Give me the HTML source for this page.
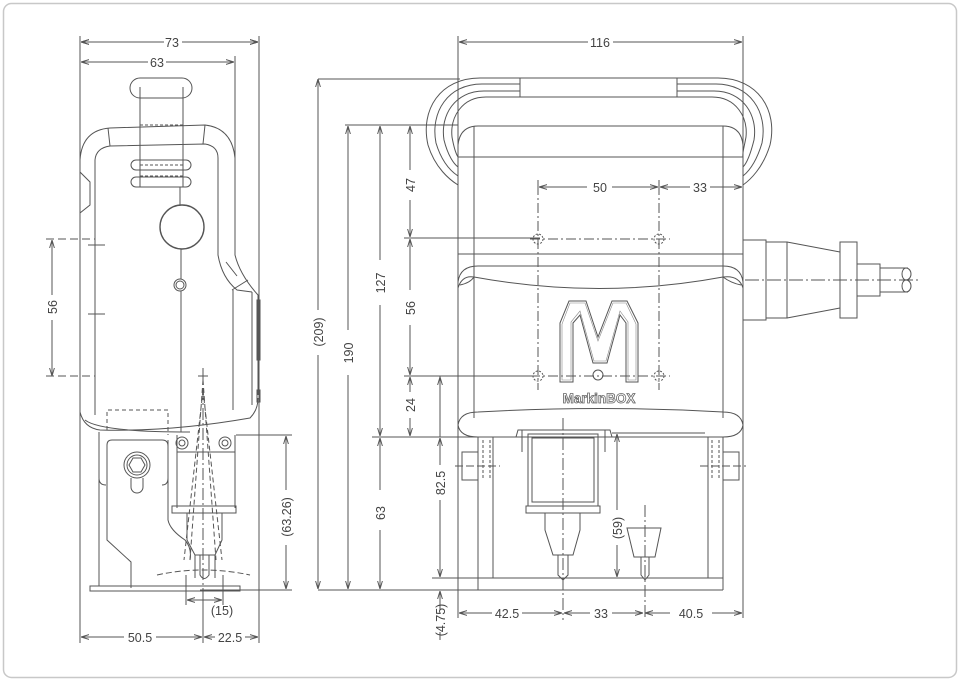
<!DOCTYPE html>
<html><head><meta charset="utf-8"><style>
html,body{margin:0;padding:0;background:#fff;}
svg{display:block;}
text{font-family:"Liberation Sans",sans-serif;font-size:12.5px;fill:#444;}
</style></head><body>
<svg width="960" height="681" viewBox="0 0 960 681" xmlns="http://www.w3.org/2000/svg">
<defs>
<marker id="a" viewBox="0 0 10 10" refX="10" refY="5" markerWidth="8" markerHeight="8" orient="auto-start-reverse" markerUnits="userSpaceOnUse"><path d="M0,2 L10,5 L0,8" fill="none" stroke="#555" stroke-width="1.2"/></marker>
</defs>
<rect x="3.5" y="3.5" width="953" height="674" rx="8" fill="#fff" stroke="#c8c8c8" stroke-width="1.5"/>
<g fill="none" stroke="#555" stroke-width="1">
<!-- ===== LEFT VIEW ===== -->
<!-- extension lines -->
<path d="M80,36V643 M259,36V643 M235,56V160 M203,598V643"/>
<!-- dims -->
<path d="M81,42H164 M182,42H258" marker-start="url(#a)" marker-end="url(#a)"/>
<line x1="81" y1="42" x2="164" y2="42" marker-start="url(#a)"/>
<line x1="182" y1="42" x2="258" y2="42" marker-end="url(#a)"/>
<line x1="81" y1="62" x2="148" y2="62" marker-start="url(#a)"/>
<line x1="166" y1="62" x2="234" y2="62" marker-end="url(#a)"/>
<line x1="81" y1="637" x2="124" y2="637" marker-start="url(#a)"/>
<line x1="156" y1="637" x2="202" y2="637" marker-end="url(#a)"/>
<line x1="204" y1="637" x2="215" y2="637" marker-start="url(#a)"/>
<line x1="245" y1="637" x2="258" y2="637" marker-end="url(#a)"/>
<!-- 56 -->
<path d="M52,240V295 M52,320V375" />
<line x1="52" y1="290" x2="52" y2="240" marker-end="url(#a)"/>
<line x1="52" y1="325" x2="52" y2="376" marker-end="url(#a)"/>
<path d="M46,239H95 M46,376H95" stroke-dasharray="8,4"/>
<path d="M88,245H105 M88,314H105"/>
<!-- 63.26 -->
<path d="M236,435H292 M200,590H292"/>
<line x1="286" y1="490" x2="286" y2="436" marker-end="url(#a)"/>
<line x1="286" y1="545" x2="286" y2="589" marker-end="url(#a)"/>
<!-- (15) -->
<path d="M186,575V605 M223,575V605"/>
<line x1="204" y1="600" x2="187" y2="600" marker-end="url(#a)"/>
<line x1="204" y1="600" x2="222" y2="600" marker-end="url(#a)"/>
<!-- handle top -->
<rect x="130" y="78" width="62" height="20" rx="10"/>
<path d="M140,87V187 M183,87V187"/>
<path d="M140,98H183 M140,125H183 M140,165H183 M140,176H183" stroke-dasharray="3,2"/>
<path d="M136,160h50 a5,5 0 0 1 0,10 h-50 a5,5 0 0 1 0,-10z M136,177h50 a5,5 0 0 1 0,10 h-50 a5,5 0 0 1 0,-10z"/>
<!-- body -->
<path d="M80,160 Q82,130 110,128 L205,125 Q232,128 235,158 V255 Q240,275 258,295 V395"/>
<path d="M95,160 Q96,148 110,146 L205,144 Q218,146 218,158 V255 Q222,278 237,290 L252,292"/>
<path d="M108,128L110,146 M205,125 L203,144 M226,262 L237,276 M232,290 L248,280"/>
<path d="M80,160V172 L90,182 V205 L80,213 V412 M95,160V415"/>
<path d="M233,290V410 M252,292V405"/>
<rect x="257" y="300" width="3" height="60"/>
<rect x="257" y="390" width="3" height="12"/>
<circle cx="182" cy="227" r="22" stroke-width="1.4"/>
<circle cx="180" cy="285" r="6"/>
<circle cx="180" cy="285" r="4"/>
<path d="M180,187V205 M181,249V279 M181,291V432"/>
<path d="M80,412 Q84,428 100,430 Q170,432 250,418 Q258,410 258,398"/>
<path d="M85,420 Q100,432 190,432"/>
<!-- bracket -->
<path d="M107,430V410 H168 V435" stroke-dasharray="4,3"/>
<path d="M99,432V478 Q99,485 106,485 M168,440 V478 Q168,485 162,485"/>
<path d="M107,445 Q107,440 112,440 H162 Q168,440 168,446 V520 Q170,530 185,540 Q192,548 190,560 M107,445 V540 L131,562 V588"/>
<circle cx="137" cy="465" r="13"/>
<circle cx="137" cy="465" r="10"/>
<polygon points="145,465 141,472 133,472 129,465 133,458 141,458"/>
<path d="M131,478 V487 a6,6 0 0 0 12,0 V478"/>
<!-- head -->
<path d="M177,435V508 M235,435V508 M177,452H235"/>
<circle cx="182" cy="443" r="6"/><circle cx="182" cy="443" r="3"/>
<circle cx="225" cy="443" r="6"/><circle cx="225" cy="443" r="3"/>
<rect x="172" y="506" width="64" height="7"/>
<path d="M187,513V540 L195,555 V578 M222,513V540 L215,555 V578 M195,555H215 M200,555V575 Q204,582 209,575 V555"/>
<path d="M203,380 L190,560 M203,380 L216,560 M203,390 L184,560 M203,390 L222,560" stroke-dasharray="5,3"/>
<path d="M203,368V606" stroke-dasharray="12,3,2,3"/>
<path d="M198,376H208"/>
<path d="M157,575 Q203,565 250,575" stroke-dasharray="6,3"/>
<rect x="90" y="586" width="150" height="5"/>
<path d="M99,479V586"/>
<!-- middle dims -->
<path d="M318,79H460 M345,125H458 M372,437H520 M404,238H540 M404,376H540 M432,578H610 M318,590H500"/>
<line x1="318" y1="310" x2="318" y2="79" marker-end="url(#a)"/>
<line x1="318" y1="355" x2="318" y2="589" marker-end="url(#a)"/>
<line x1="348" y1="330" x2="348" y2="126" marker-end="url(#a)"/>
<line x1="348" y1="375" x2="348" y2="589" marker-end="url(#a)"/>
<line x1="380" y1="260" x2="380" y2="126" marker-end="url(#a)"/>
<line x1="380" y1="305" x2="380" y2="436" marker-end="url(#a)"/>
<line x1="380" y1="490" x2="380" y2="438" marker-end="url(#a)"/>
<line x1="380" y1="530" x2="380" y2="589" marker-end="url(#a)"/>
<line x1="410" y1="170" x2="410" y2="126" marker-end="url(#a)"/>
<line x1="410" y1="200" x2="410" y2="237" marker-end="url(#a)"/>
<line x1="410" y1="290" x2="410" y2="239" marker-end="url(#a)"/>
<line x1="410" y1="325" x2="410" y2="375" marker-end="url(#a)"/>
<line x1="410" y1="392" x2="410" y2="377" marker-end="url(#a)"/>
<line x1="410" y1="418" x2="410" y2="436" marker-end="url(#a)"/>
<line x1="440" y1="465" x2="440" y2="438" marker-end="url(#a)"/>
<line x1="440" y1="500" x2="440" y2="577" marker-end="url(#a)"/>
<line x1="440" y1="610" x2="440" y2="591" marker-end="url(#a)"/>
<path d="M440,376 L440,437"/>
<line x1="440" y1="437" x2="440" y2="377" marker-end="url(#a)"/>
<path d="M440,632V640"/>
<!-- ===== RIGHT VIEW ===== -->
<path d="M458,36V618 M743,36V618"/>
<line x1="459" y1="42" x2="588" y2="42" marker-start="url(#a)"/>
<line x1="613" y1="42" x2="742" y2="42" marker-end="url(#a)"/>
<line x1="539" y1="187" x2="587" y2="187" marker-start="url(#a)"/>
<line x1="612" y1="187" x2="658" y2="187" marker-end="url(#a)"/>
<line x1="660" y1="187" x2="690" y2="187" marker-start="url(#a)"/>
<line x1="710" y1="187" x2="742" y2="187" marker-end="url(#a)"/>
<line x1="459" y1="613" x2="492" y2="613" marker-start="url(#a)"/>
<line x1="522" y1="613" x2="562" y2="613" marker-end="url(#a)"/>
<line x1="564" y1="613" x2="590" y2="613" marker-start="url(#a)"/>
<line x1="612" y1="613" x2="643" y2="613" marker-end="url(#a)"/>
<line x1="645" y1="613" x2="670" y2="613" marker-start="url(#a)"/>
<line x1="712" y1="613" x2="742" y2="613" marker-end="url(#a)"/>
<line x1="617" y1="510" x2="617" y2="434" marker-end="url(#a)"/>
<line x1="617" y1="545" x2="617" y2="577" marker-end="url(#a)"/>
<path d="M612,433H705"/>
<!-- handle -->
<rect x="520" y="78" width="157" height="19"/>
<path d="M520,78 H480 C440,78 420,110 428,145 C435,168 450,180 458,185"/>
<path d="M520,84 H482 C448,84 430,112 436,143 C442,163 452,172 458,176"/>
<path d="M520,91 H484 C455,91 440,115 444,140 C448,156 454,164 458,167"/>
<path d="M520,97 H486 C462,97 450,117 452,137 C454,148 456,154 458,157"/>
<path d="M677,78 H718 C758,78 778,110 770,145 C763,168 750,180 743,185"/>
<path d="M677,84 H716 C750,84 768,112 762,143 C756,163 748,172 743,176"/>
<path d="M677,91 H714 C743,91 758,115 754,140 C750,156 746,164 743,167"/>
<path d="M677,97 H712 C736,97 748,117 746,137 C744,148 742,154 743,157"/>
<!-- body -->
<path d="M458,145 Q460,126 478,126 H723 Q741,126 743,145"/>
<path d="M474,126V418 M723,126V418 M458,157H743 M458,254H743"/>
<path d="M458,282 Q460,266 478,266 H723 Q741,266 743,282 M458,288 Q462,275 474,277 Q600,300 723,277 Q739,275 743,288 M474,277 Q470,283 460,285 M723,277 Q731,283 741,285"/>
<path d="M458,425 Q460,412 478,412 Q600,405 723,412 Q741,412 743,425 M458,425 Q460,437 478,437 H723 Q741,437 743,425"/>
<!-- holes and centers -->
<g stroke-dasharray="2,1.5"><circle cx="538" cy="239" r="5"/><circle cx="659" cy="239" r="5"/><circle cx="538" cy="376" r="5"/><circle cx="659" cy="376" r="5"/></g>
<path d="M530,239H670 M530,376H670 M538,185V390 M659,185V390" stroke-dasharray="10,3,2,3"/>
<path d="M538,180V186 M659,180V192"/>
<!-- M logo -->
<polygon points="560,382 560,323 569,301 586,301 598,337 612,301 627,301 638,323 638,382 626,382 626,323 620,315 607,363 593,363 580,315 573,323 573,382"/>
<polygon points="562,380 562,324 570,303 585,303 598,341 613,303 626,303 636,324 636,380 628,380 628,322 620,311 606,361 594,361 580,311 571,322 571,380" stroke="#888" stroke-width="0.6"/>
<circle cx="598" cy="375" r="5"/>
<!-- connector -->
<rect x="743" y="240" width="23" height="80"/>
<rect x="766" y="242" width="21" height="76"/>
<path d="M787,242 L840,252 M787,318 L840,308"/>
<rect x="840" y="242" width="17" height="76"/>
<rect x="857" y="264" width="23" height="32"/>
<path d="M880,268H908 M880,292H908 M906,268 a5,6 0 0 1 0,12 a5,6 0 0 1 0,12 M906,268 a4,6 0 0 0 0,12 a4,6 0 0 0 0,12"/>
<path d="M745,280H920" stroke-dasharray="14,3,2,3"/>
<!-- bottom -->
<path d="M516,437 L518,430 H610 L612,437"/>
<path d="M478,437V578 H723 V437 M493,437V578 M708,437V578 M478,590 H723 M478,578 V590 M723,578V590"/>
<path d="M483,440V480 M490,440V480 M712,440V480 M719,440V480" stroke-dasharray="3,2"/>
<rect x="462" y="452" width="16" height="28"/>
<rect x="723" y="452" width="16" height="28"/>
<path d="M455,466H500 M700,466H746" stroke-dasharray="8,3"/>
<path d="M522,430V452 M605,430V452"/>
<rect x="528" y="434" width="70" height="72"/>
<rect x="532" y="438" width="62" height="64"/>
<rect x="526" y="506" width="74" height="7"/>
<path d="M545,513V530 L553,555 H573 L580,530 V513 M558,555V575 L563,580 L568,575 V555"/>
<path d="M563,418V620" stroke-dasharray="12,3,2,3"/>
<path d="M627,528 H661 L655,557 H634 Z M641,557V575 L645,580 L649,575 V557"/>
<path d="M645,505V620" stroke-dasharray="12,3,2,3"/>
</g>
<!-- text -->
<g text-anchor="middle">
<text x="172" y="47">73</text>
<text x="157" y="67">63</text>
<text x="140" y="642">50.5</text>
<text x="230" y="642">22.5</text>
<text x="222" y="615">(15)</text>
<text x="600" y="47">116</text>
<text x="600" y="192">50</text>
<text x="700" y="192">33</text>
<text x="507" y="618">42.5</text>
<text x="601" y="618">33</text>
<text x="691" y="618">40.5</text>
<text transform="translate(57,307) rotate(-90)">56</text>
<text transform="translate(291,517) rotate(-90)">(63.26)</text>
<text transform="translate(323,332) rotate(-90)">(209)</text>
<text transform="translate(353,353) rotate(-90)">190</text>
<text transform="translate(385,283) rotate(-90)">127</text>
<text transform="translate(385,513) rotate(-90)">63</text>
<text transform="translate(415,185) rotate(-90)">47</text>
<text transform="translate(415,308) rotate(-90)">56</text>
<text transform="translate(415,405) rotate(-90)">24</text>
<text transform="translate(445,483) rotate(-90)">82.5</text>
<text transform="translate(445,620) rotate(-90)">(4.75)</text>
<text transform="translate(622,528) rotate(-90)">(59)</text>
<text x="599" y="403" style="font-size:13.5px;font-weight:bold;fill:#fff;stroke:#666;stroke-width:0.8">MarkinBOX</text>
</g>
</svg>
</body></html>
